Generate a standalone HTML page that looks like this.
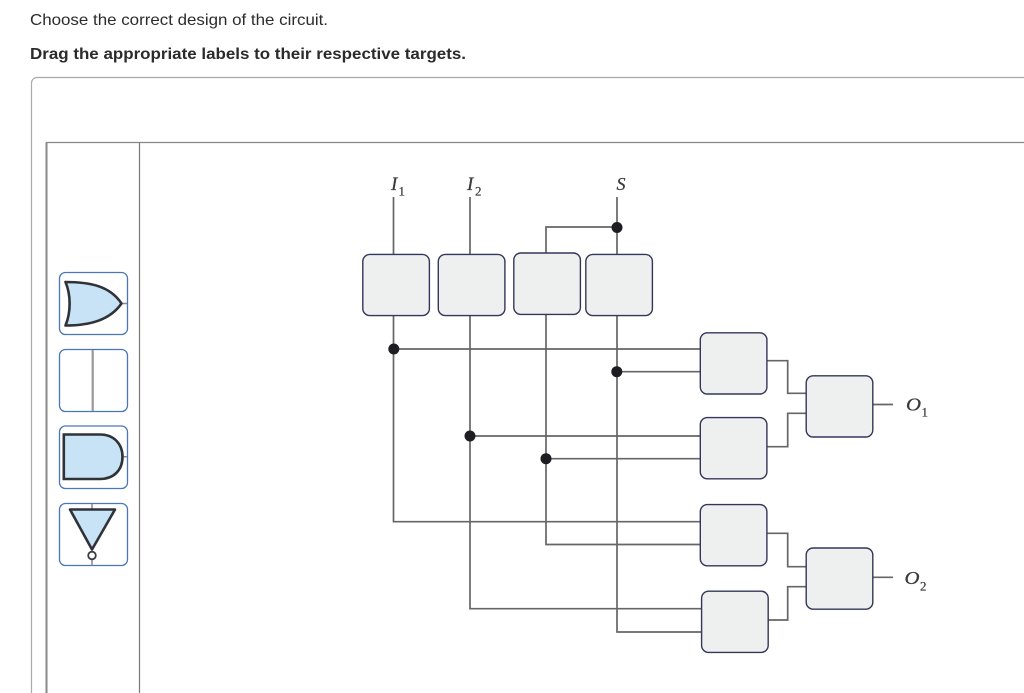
<!DOCTYPE html>
<html>
<head>
<meta charset="utf-8">
<style>
html,body{margin:0;padding:0;background:#fff;width:1024px;height:693px;overflow:hidden}
svg{display:block}
.t{font-family:"Liberation Sans",sans-serif;font-size:16px;fill:#2b2b2b}
.s{font-family:"Liberation Serif",serif;font-style:italic;fill:#3a3a3a;stroke:#3a3a3a;stroke-width:.25}
.sub{font-family:"Liberation Serif",serif;fill:#3a3a3a;stroke:#3a3a3a;stroke-width:.2}
</style>
</head>
<body>
<svg width="1024" height="693" viewBox="0 0 1024 693" xmlns="http://www.w3.org/2000/svg">
<text class="t" x="30" y="25" textLength="298" lengthAdjust="spacingAndGlyphs">Choose the correct design of the circuit.</text>
<text class="t" x="30" y="59" style="font-weight:bold" textLength="436" lengthAdjust="spacingAndGlyphs">Drag the appropriate labels to their respective targets.</text>

<!-- panel -->
<path d="M1024 77.5H37a5.5 5.5 0 0 0-5.5 5.5V693" fill="none" stroke="#aaa" stroke-width="1.2"/>
<path d="M1024 142.5H46.5V693" fill="none" stroke="#888" stroke-width="1.2"/>
<path d="M46.5 142.5V693" fill="none" stroke="#888" stroke-width="2"/>
<path d="M139.5 142.5V693" fill="none" stroke="#777" stroke-width="1.2"/>

<!-- palette -->
<g fill="#fff" stroke="#4a76b8" stroke-width="1.3">
<rect x="59.5" y="272.5" width="68" height="62" rx="6"/>
<rect x="59.5" y="349.5" width="68" height="62" rx="6"/>
<rect x="59.5" y="426" width="68" height="62.5" rx="6"/>
<rect x="59.5" y="503.5" width="68" height="62" rx="6"/>
</g>
<path d="M92.7 350V411" stroke="#999" stroke-width="2.2" fill="none"/>
<path d="M122 303.5H127M122 456.8H127M92 504V509M92 559.5V565.5" stroke="#888" stroke-width="1.5" fill="none"/>
<path d="M65.5 282C90 282 110 286 121.5 303.5C110 320 90 325.5 65.5 325.5C71 312 71 295 65.5 282Z" fill="#c8e2f6" stroke="#2f3338" stroke-width="2.6" stroke-linejoin="round"/>
<path d="M63.8 434.5H100C114 434.5 122.5 444 122.5 456.8C122.5 470 114 479 100 479H63.8Z" fill="#c8e2f6" stroke="#2f3338" stroke-width="2.6"/>
<path d="M70 509.5H115L92 549.5Z" fill="#c8e2f6" stroke="#2f3338" stroke-width="2.6" stroke-linejoin="round"/>
<circle cx="92" cy="555.5" r="3.8" fill="#fff" stroke="#3a3f44" stroke-width="1.8"/>

<!-- wires -->
<g fill="none" stroke="#666" stroke-width="1.7">
<path d="M393.5 197V254M393.5 316V521.7H701"/>
<path d="M470 197V254M470 316V608.7H702"/>
<path d="M617 197V254M617 312V632H702"/>
<path d="M617 227H546V253M546 314V544.5H701"/>
<path d="M393.5 349H701M617 371.7H701M470 436H701M546 458.7H701"/>
<path d="M767 360.7H787.7V393.3H806M767 446.7H787.7V413.3H806"/>
<path d="M767 533.3H787.7V566.7H806M768 620H787.7V586.7H806"/>
<path d="M873 404.5H893M873 577.3H893"/>
</g>
<g fill="#1e1e22">
<circle cx="617" cy="227.5" r="5.5"/>
<circle cx="393.8" cy="349" r="5.5"/>
<circle cx="616.8" cy="371.7" r="5.5"/>
<circle cx="470" cy="436" r="5.5"/>
<circle cx="546" cy="458.7" r="5.5"/>
</g>

<!-- boxes -->
<g fill="#eef0f0" stroke="#33365a" stroke-width="1.4">
<rect x="362.8" y="254.4" width="66.6" height="61.2" rx="7"/>
<rect x="438.3" y="254.4" width="66.6" height="61.2" rx="7"/>
<rect x="513.8" y="253" width="66.6" height="61.4" rx="7"/>
<rect x="585.8" y="254.4" width="66.6" height="61.2" rx="7"/>
<rect x="700.3" y="332.8" width="66.6" height="61.2" rx="7"/>
<rect x="700.3" y="417.6" width="66.6" height="61.2" rx="7"/>
<rect x="806.2" y="375.8" width="66.6" height="61.2" rx="7"/>
<rect x="700.3" y="504.6" width="66.6" height="61.2" rx="7"/>
<rect x="701.6" y="591.2" width="66.6" height="61.2" rx="7"/>
<rect x="806.2" y="548" width="66.6" height="61.2" rx="7"/>
</g>

<!-- labels -->
<text class="s" x="391" y="190" font-size="19">I</text><text class="sub" x="398.5" y="195.5" font-size="13">1</text>
<text class="s" x="467" y="190" font-size="19">I</text><text class="sub" x="475" y="195.5" font-size="13">2</text>
<text class="s" x="616.5" y="190" font-size="18">S</text>
<text class="s" x="906" y="410.5" font-size="18" textLength="15" lengthAdjust="spacingAndGlyphs">O</text><text class="sub" x="921.5" y="416.5" font-size="13">1</text>
<text class="s" x="904.5" y="584" font-size="18" textLength="15" lengthAdjust="spacingAndGlyphs">O</text><text class="sub" x="920" y="590.5" font-size="13">2</text>
</svg>
</body>
</html>
